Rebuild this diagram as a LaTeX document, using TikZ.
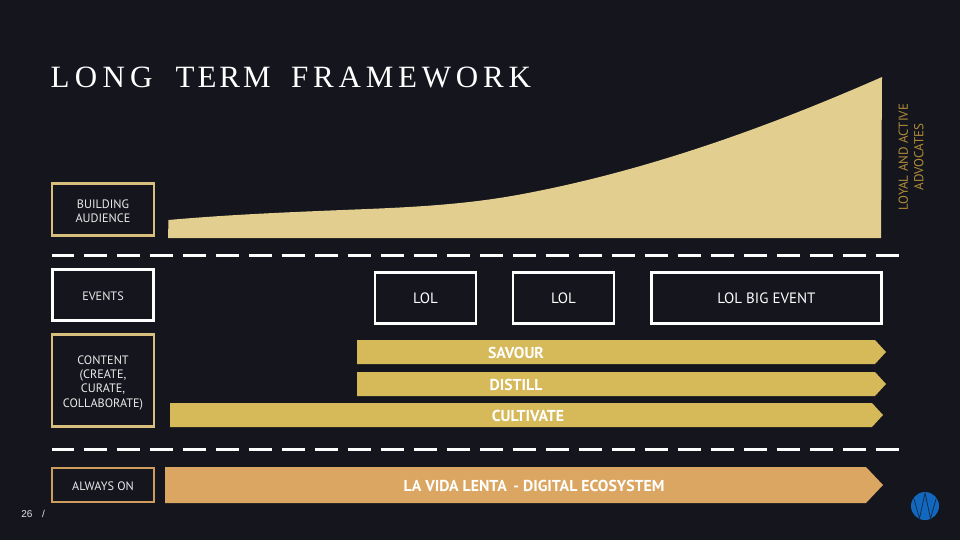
\documentclass[tikz,border=0pt]{standalone}
\usepackage{fontspec}
\setmainfont{PT Sans}
\newfontfamily\titlefont[LetterSpace=17]{Liberation Serif}
\newfontfamily\titlefontb[LetterSpace=15.4]{Liberation Serif}
\newfontfamily\numfont{Liberation Sans}
\definecolor{bgc}{HTML}{14151D}
\definecolor{sand}{HTML}{E2CE8F}
\definecolor{gold}{HTML}{D6B959}
\definecolor{orangeg}{HTML}{DBA661}
\definecolor{boxgold}{HTML}{D8BE7C}
\definecolor{boxor}{HTML}{CE9C5C}
\definecolor{advoc}{HTML}{B08C38}
\definecolor{logoblue}{HTML}{1268BE}
\newcommand{\lowerlab}[2]{\raisebox{0pt}[\dimexpr\height+#1pt\relax][\depth]{#2}}
\tikzset{
  x=1pt,y=-1pt,
  lab/.style={text=white!92!black,font=\fontsize{12.2}{14.6}\selectfont,align=center},
  framebox/.style={draw,line width=2.8pt,inner sep=0pt,lab},
  evbox/.style={draw=white,line width=2.8pt,inner sep=0pt,text=white,font=\fontsize{15}{17}\selectfont},
  band/.style={fill=gold,draw=none},
  bandtxt/.style={text=white,font=\bfseries\fontsize{15.8}{18}\selectfont},
  sep/.style={draw=white,line width=3pt,dash pattern=on 23.5pt off 9.5pt,dash phase=1.5pt},
}
\begin{document}
\begin{tikzpicture}
\useasboundingbox (0,0) rectangle (960,540);
\fill[bgc] (0,0) rectangle (960,540);
\node[anchor=base west,inner sep=0pt,text=white,font=\titlefont\fontsize{31}{34}\selectfont] (title) at (50.5,88) {LONG\hspace{10pt} T\kern3pt E\kern3pt R\kern3pt M\hspace{7.5pt} {\titlefontb\fontsize{31}{34}\selectfont FRAMEWORK}};
% curve
\fill[sand] (168,238) -- (168.5,220) .. controls (232.3,214.3) and (296.2,211.9) .. (360,209.3) .. controls (413.3,207.2) and (466.7,204.4) .. (520,194.5) .. controls (640.7,172.2) and (761.3,130.1) .. (882,77) -- (881,238) -- cycle;
\node[rotate=90,text=advoc,align=center,font=\fontsize{13}{15.5}\selectfont,inner sep=0pt] (adv) at (911,157) {LOYAL AND ACTIVE\\ADVOCATES};
% left frames
\node[framebox,draw=boxgold,minimum width=102pt,minimum height=52pt] (build) at (103,209.5) {\lowerlab{6}{\begin{tabular}{@{}c@{}}BUILDING\\[-0.5pt]AUDIENCE\end{tabular}}};
\node[framebox,draw=white,minimum width=101pt,minimum height=51pt] (events) at (103,295) {\lowerlab{2}{EVENTS}};
\node[framebox,draw=boxgold,minimum width=102pt,minimum height=92pt] (content) at (103,380.5) {\lowerlab{5}{\begin{tabular}{@{}c@{}}CONTENT\\[-0.5pt](CREATE,\\[-0.5pt]CURATE,\\[-0.5pt]COLLABORATE)\end{tabular}}};
\node[framebox,draw=boxor,minimum width=102pt,minimum height=34pt] (always) at (103,485) {\lowerlab{2}{ALWAYS ON}};
% events
\node[evbox,minimum width=101pt,minimum height=51pt] (lol1) at (425.5,298) {LOL};
\node[evbox,minimum width=101pt,minimum height=51pt] (lol2) at (563.5,298) {LOL};
\node[evbox,minimum width=230pt,minimum height=51pt] (big) at (766.5,298) {LOL BIG EVENT};
% bands
\fill[band] (357,340) -- (875,340) -- (886,352) -- (875,364) -- (357,364) -- cycle;
\fill[band] (357,372) -- (875,372) -- (886,384) -- (875,396) -- (357,396) -- cycle;
\fill[band] (170,403) -- (872,403) -- (883,415) -- (872,427) -- (170,427) -- cycle;
\fill[orangeg] (165,467) -- (866,467) -- (883,485) -- (866,503) -- (165,503) -- cycle;
\node[bandtxt] (savour) at (516,353) {SAVOUR};
\node[bandtxt] (distill) at (516,385) {DISTILL};
\node[bandtxt] (cult) at (528,416) {CULTIVATE};
\node[bandtxt] (vida) at (534,485.5) {LA VIDA LENTA\, - DIGITAL ECOSYSTEM};
% separators
\coordinate (s1a) at (52,255.5); \coordinate (s1b) at (899,255.5);
\coordinate (s2a) at (52,449); \coordinate (s2b) at (899,449);
\draw[sep] (s1a) -- (s1b);
\draw[sep] (s2a) -- (s2b);
% page
\node[text=white!90!black,font=\numfont\fontsize{10}{12}\selectfont,inner sep=0pt] (pg) at (27,514) {26};
\node[text=white!90!black,font=\numfont\fontsize{10}{12}\selectfont,inner sep=0pt] (sl) at (43.5,514) {/};
% logo
\fill[logoblue] (925,506) circle (14);
\draw[bgc!70!logoblue,line width=0.8pt] (914,499) -- (919.5,518.5) -- (925,493) -- (930.5,518.5) -- (936,499);
\end{tikzpicture}
\end{document}
